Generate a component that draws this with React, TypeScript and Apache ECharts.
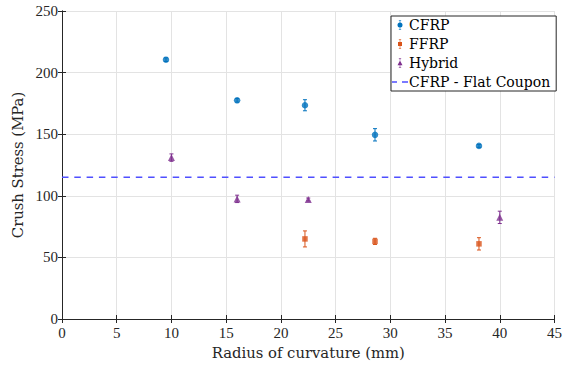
import React, { useEffect, useRef } from "react";
import * as echarts from "echarts";

const xTicks = [0, 5, 10, 15, 20, 25, 30, 35, 40, 45];
const yTicks = [0, 50, 100, 150, 200, 250];

const cfrpX = [9.5, 16, 22.2, 28.6, 38.1];
const cfrpY = [210.5, 177.5, 173.5, 149.5, 140.5];
const cfrpErr = [1.5, 1.5, 4.5, 5, 1.2];

const ffrpX = [22.2, 28.6, 38.1];
const ffrpY = [65, 63, 61];
const ffrpErr = [6.5, 2.5, 5];

const hybridX = [10, 16, 22.5, 40];
const hybridY = [131, 97.5, 97, 82.5];
const hybridErr = [3, 3, 1.2, 5];

const flatCouponX = [0, 45];
const flatCouponY = 115;

const C_CFRP = "#0072BD";
const C_FFRP = "#D95319";
const C_HYB = "#7E2F8E";
const C_FLAT = "#4f4fff";
const AX = "#262626";

const ICON_CIRCLE =
  "path://M2.2,0H2.8V2.5H2.2Z M2.2,7.5H2.8V10H2.2Z M1.3,0H3.7V0.6H1.3Z M1.3,9.4H3.7V10H1.3Z M0,5A2.5,2.5 0 1,1 5,5A2.5,2.5 0 1,1 0,5Z";
const ICON_SQUARE =
  "path://M2.2,0H2.8V3H2.2Z M2.2,7H2.8V10H2.2Z M1.3,0H3.7V0.6H1.3Z M1.3,9.4H3.7V10H1.3Z M0.5,3H4.5V7H0.5Z M0,0.1H0.01V0.11H0Z M4.99,0.1H5V0.11H4.99Z";
const ICON_TRI =
  "path://M2.2,0H2.8V2.6H2.2Z M2.2,7.3H2.8V10H2.2Z M1.3,0H3.7V0.6H1.3Z M1.3,9.4H3.7V10H1.3Z M0,7.3L2.5,2.6L5,7.3Z";
const ICON_DASH = "path://M0,0H5V1.4H0Z M10,0H16V1.4H10Z";

function zip3(xs: number[], ys: number[], es: number[]) {
  return xs.map((x, i) => [x, ys[i], es[i]]);
}

function errRender(color: string) {
  return (params: any, api: any) => {
    const x = api.value(0);
    const y = api.value(1);
    const e = api.value(2);
    const top = api.coord([x, y + e]);
    const bot = api.coord([x, y - e]);
    const w = 2;
    const style = { stroke: color, lineWidth: 1 };
    return {
      type: "group",
      children: [
        { type: "line", shape: { x1: top[0], y1: top[1], x2: bot[0], y2: bot[1] }, style },
        { type: "line", shape: { x1: top[0] - w, y1: top[1], x2: top[0] + w, y2: top[1] }, style },
        { type: "line", shape: { x1: bot[0] - w, y1: bot[1], x2: bot[0] + w, y2: bot[1] }, style },
      ],
    };
  };
}

export default function App() {
  const ref = useRef<HTMLDivElement>(null);
  useEffect(() => {
    if (!ref.current) return;
    const chart = echarts.init(ref.current, null, { renderer: "svg" });
    const tickFont = { fontFamily: "Liberation Serif", fontSize: 15, color: AX };
    const nameFont = { fontFamily: "DejaVu Serif", fontSize: 14.8, color: AX };
    const baseX = {
      type: "value",
      min: xTicks[0],
      max: xTicks[xTicks.length - 1],
      interval: 5,
      axisLine: { show: true, lineStyle: { color: AX, width: 1 } },
      axisTick: { show: true, inside: true, length: 4, lineStyle: { color: AX } },
    };
    const baseY = {
      type: "value",
      min: yTicks[0],
      max: yTicks[yTicks.length - 1],
      interval: 50,
      axisLine: { show: true, lineStyle: { color: AX, width: 1 } },
      axisTick: { show: true, inside: true, length: 4, lineStyle: { color: AX } },
    };
    const option: any = {
      animation: false,
      backgroundColor: "#ffffff",
      grid: { left: 62, right: 6, top: 11, bottom: 48, containLabel: false },
      xAxis: [
        {
          ...baseX,
          position: "bottom",
          axisLabel: { ...tickFont, margin: 6 },
          splitLine: { show: true, lineStyle: { color: "#e3e3e3", width: 1 } },
          name: "Radius of curvature (mm)",
          nameLocation: "middle",
          nameGap: 23,
          nameTextStyle: nameFont,
        },
        {
          ...baseX,
          position: "top",
          axisLabel: { show: false },
          splitLine: { show: false },
        },
      ],
      yAxis: [
        {
          ...baseY,
          position: "left",
          axisLabel: { ...tickFont, margin: 4 },
          splitLine: { show: true, lineStyle: { color: "#e3e3e3", width: 1 } },
          name: "Crush Stress (MPa)",
          nameLocation: "middle",
          nameGap: 32,
          nameTextStyle: nameFont,
        },
        {
          ...baseY,
          position: "right",
          axisLabel: { show: false },
          splitLine: { show: false },
        },
      ],
      legend: {
        orient: "vertical",
        left: 391,
        top: 16,
        padding: [2, 6, 2, 1],
        itemGap: 5,
        itemWidth: 16,
        itemHeight: 10,
        backgroundColor: "#ffffff",
        borderColor: AX,
        borderWidth: 1,
        borderRadius: 0,
        textStyle: { fontFamily: "DejaVu Serif", fontSize: 14, color: "#000", padding: [0, 0, 0, -4] },
        data: [
          { name: "CFRP", icon: ICON_CIRCLE, itemStyle: { color: C_CFRP, borderWidth: 0 } },
          { name: "FFRP", icon: ICON_SQUARE, itemStyle: { color: C_FFRP, borderWidth: 0 } },
          { name: "Hybrid", icon: ICON_TRI, itemStyle: { color: C_HYB, borderWidth: 0 } },
          { name: "CFRP - Flat Coupon", icon: ICON_DASH, itemStyle: { color: C_FLAT, borderWidth: 0 } },
        ],
      },
      series: [
        {
          name: "CFRP - Flat Coupon",
          type: "line",
          data: flatCouponX.map((x) => [x, flatCouponY]),
          symbol: "none",
          color: C_FLAT,
          lineStyle: { color: C_FLAT, width: 1.5, type: [6.5, 5.8] },
          z: 2,
        },
        {
          name: "CFRP",
          type: "custom",
          renderItem: errRender(C_CFRP),
          data: zip3(cfrpX, cfrpY, cfrpErr),
          encode: { x: 0, y: 1 },
          color: C_CFRP,
          z: 3,
        },
        {
          name: "FFRP",
          type: "custom",
          renderItem: errRender(C_FFRP),
          data: zip3(ffrpX, ffrpY, ffrpErr),
          encode: { x: 0, y: 1 },
          color: C_FFRP,
          z: 3,
        },
        {
          name: "Hybrid",
          type: "custom",
          renderItem: errRender(C_HYB),
          data: zip3(hybridX, hybridY, hybridErr),
          encode: { x: 0, y: 1 },
          color: C_HYB,
          z: 3,
        },
        {
          name: "CFRP",
          type: "scatter",
          symbol: "circle",
          symbolSize: 6.5,
          data: cfrpX.map((x, i) => [x, cfrpY[i]]),
          itemStyle: { color: C_CFRP },
          z: 4,
        },
        {
          name: "FFRP",
          type: "scatter",
          symbol: "rect",
          symbolSize: 5.5,
          data: ffrpX.map((x, i) => [x, ffrpY[i]]),
          itemStyle: { color: C_FFRP },
          z: 4,
        },
        {
          name: "Hybrid",
          type: "scatter",
          symbol: "triangle",
          symbolSize: 7,
          data: hybridX.map((x, i) => [x, hybridY[i]]),
          itemStyle: { color: C_HYB },
          z: 4,
        },
      ],
    };
    chart.setOption(option);
    return () => chart.dispose();
  }, []);
  return (
    <div
      ref={ref}
      style={{ position: "fixed", left: 0, top: 0, width: 565, height: 367, background: "#fff" }}
    />
  );
}
